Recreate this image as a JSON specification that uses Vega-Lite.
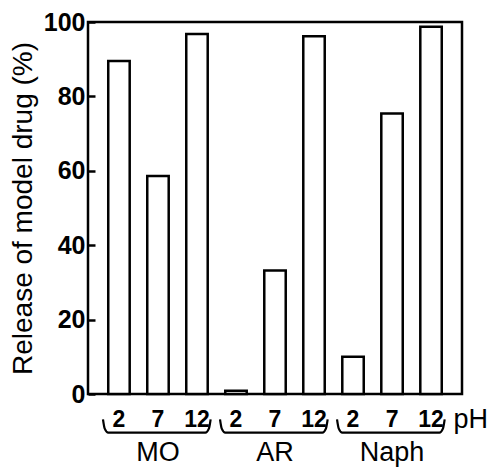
{
  "$schema": "https://vega.github.io/schema/vega-lite/v6.json",
  "width": 374,
  "height": 372,
  "autosize": {"type": "none"},
  "padding": {"left": 88, "top": 22, "right": 33, "bottom": 73},
  "background": "white",
  "config": {
    "font": "Liberation Sans",
    "view": {"stroke": "black", "strokeWidth": 2.5}
  },
  "datasets": {
    "release": [
      {"drug": "MO", "pH": "2", "release": 89.5},
      {"drug": "MO", "pH": "7", "release": 58.6},
      {"drug": "MO", "pH": "12", "release": 96.8},
      {"drug": "AR", "pH": "2", "release": 0.9},
      {"drug": "AR", "pH": "7", "release": 33.2},
      {"drug": "AR", "pH": "12", "release": 96.2},
      {"drug": "Naph", "pH": "2", "release": 10.0},
      {"drug": "Naph", "pH": "7", "release": 75.4},
      {"drug": "Naph", "pH": "12", "release": 98.7}
    ],
    "brace": [
      {"drug": "MO", "t": 0.03, "v": -6.8},
      {"drug": "MO", "t": 0.045, "v": -9.3},
      {"drug": "MO", "t": 0.075, "v": -10.4},
      {"drug": "MO", "t": 0.905, "v": -10.4},
      {"drug": "MO", "t": 0.935, "v": -9.3},
      {"drug": "MO", "t": 0.95, "v": -6.8},
      {"drug": "AR", "t": 0.03, "v": -6.8},
      {"drug": "AR", "t": 0.045, "v": -9.3},
      {"drug": "AR", "t": 0.075, "v": -10.4},
      {"drug": "AR", "t": 0.905, "v": -10.4},
      {"drug": "AR", "t": 0.935, "v": -9.3},
      {"drug": "AR", "t": 0.95, "v": -6.8},
      {"drug": "Naph", "t": 0.03, "v": -6.8},
      {"drug": "Naph", "t": 0.045, "v": -9.3},
      {"drug": "Naph", "t": 0.075, "v": -10.4},
      {"drug": "Naph", "t": 0.905, "v": -10.4},
      {"drug": "Naph", "t": 0.935, "v": -9.3},
      {"drug": "Naph", "t": 0.95, "v": -6.8}
    ]
  },
  "resolve": {"scale": {"xOffset": "independent"}},
  "layer": [
    {
      "data": {"name": "release"},
      "mark": {"type": "bar", "fill": "white", "stroke": "black", "strokeWidth": 2.5},
      "encoding": {
        "x": {
          "field": "drug", "type": "nominal", "sort": ["MO", "AR", "Naph"],
          "scale": {"paddingInner": 0, "paddingOuter": 0.098},
          "axis": {
            "title": null, "ticks": false, "domain": false, "labelAngle": 0,
            "labelFontSize": 27, "labelColor": "black", "labelPadding": 45,
            "labelBaseline": "top"
          }
        },
        "xOffset": {
          "field": "pH", "type": "nominal", "sort": ["2", "7", "12"],
          "scale": {"paddingInner": 0.45, "paddingOuter": 0.225}
        },
        "y": {
          "field": "release", "type": "quantitative",
          "scale": {"domain": [0, 100]},
          "axis": {
            "title": "Release of model drug (%)",
            "titleFontSize": 28, "titleFontWeight": "normal", "titleColor": "black",
            "titlePadding": 6,
            "values": [0, 20, 40, 60, 80, 100],
            "labelFontSize": 25, "labelFontWeight": "bold", "labelColor": "black",
            "tickSize": -7, "tickWidth": 2.5, "tickColor": "black",
            "labelPadding": 10, "domain": false, "grid": false
          }
        }
      }
    },
    {
      "data": {"name": "release"},
      "mark": {"type": "text", "fontSize": 23, "fontWeight": "bold", "baseline": "middle", "align": "center", "color": "black"},
      "encoding": {
        "x": {"field": "drug", "type": "nominal", "sort": ["MO", "AR", "Naph"]},
        "xOffset": {
          "field": "pH", "type": "nominal", "sort": ["2", "7", "12"],
          "scale": {"type": "point", "padding": 0.5}
        },
        "y": {"datum": -7},
        "text": {"field": "pH"}
      }
    },
    {
      "data": {"name": "brace"},
      "mark": {"type": "line", "stroke": "black", "strokeWidth": 2.2, "interpolate": "monotone"},
      "encoding": {
        "x": {"field": "drug", "type": "nominal", "sort": ["MO", "AR", "Naph"]},
        "xOffset": {"field": "t", "type": "quantitative", "scale": {"domain": [0, 1]}},
        "y": {"field": "v", "type": "quantitative"},
        "detail": {"field": "drug"}
      }
    },
    {
      "data": {"values": [{"unit": "pH"}]},
      "mark": {"type": "text", "fontSize": 27, "align": "left", "baseline": "middle", "dx": 3, "color": "black"},
      "encoding": {
        "x": {"datum": "Naph", "type": "nominal", "bandPosition": 1},
        "y": {"datum": -7},
        "text": {"field": "unit"}
      }
    }
  ]
}
